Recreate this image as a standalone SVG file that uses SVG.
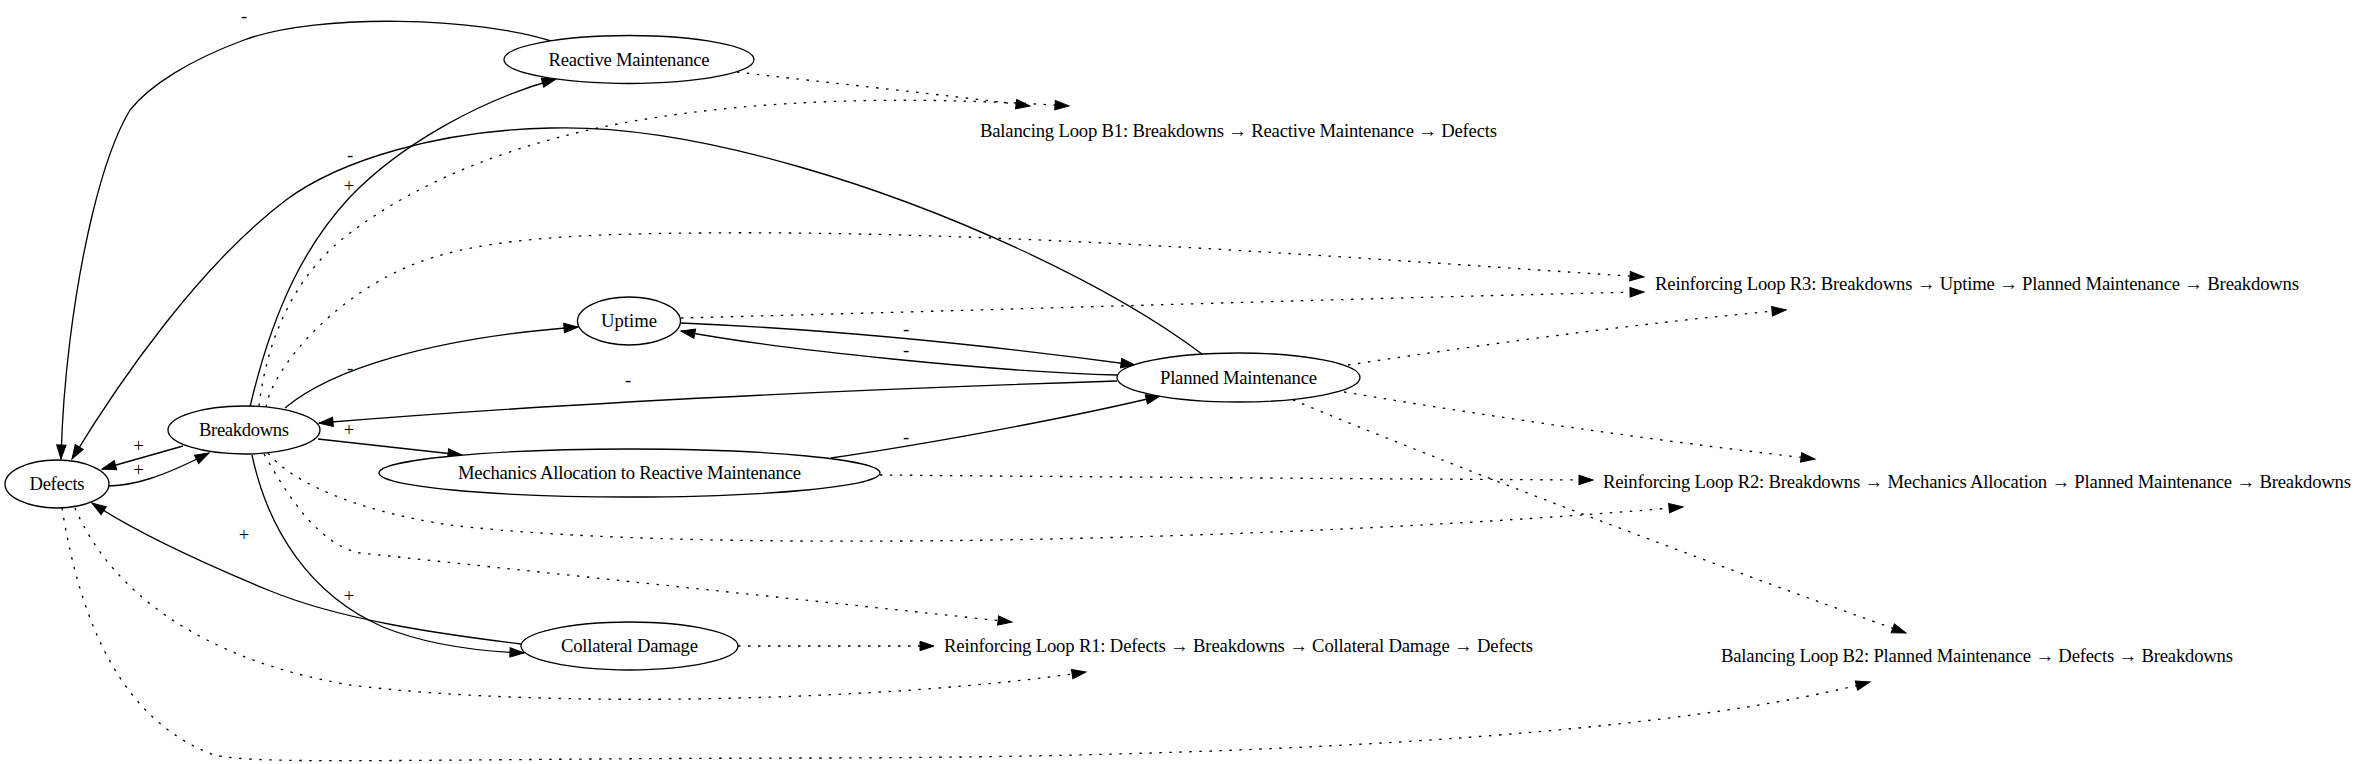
<svg xmlns="http://www.w3.org/2000/svg" width="2368" height="764" viewBox="0 0 2368 764">
<defs>
<marker id="ah" viewBox="0 0 14 10" markerWidth="14" markerHeight="10" refX="14" refY="5" orient="auto" markerUnits="userSpaceOnUse" overflow="visible">
<path d="M0,0.3 L14,5 L0,9.7 z" fill="#000" stroke="#000" stroke-width="1"/>
</marker>
<style>
.n ellipse{fill:#fff;stroke:#000;stroke-width:1.33}
text{font-family:"Liberation Serif","Times New Roman",serif;font-size:18.67px;fill:#000;text-anchor:middle}
.e path{fill:none;stroke:#000;stroke-width:1.33;marker-end:url(#ah)}
.e path.d{stroke-dasharray:2.5,7.5}
</style>
</defs>
<rect width="2368" height="764" fill="#fff"/>
<g id="connectors" class="e">
<path d="M551,41 C480,18 320,12 244,40 C190,60 150,85 130,110 C100,160 80,260 70,340 C65,380 62,420 61,459"/>
<path d="M250,407 C275,300 310,240 350,197 C400,145 480,100 556,79"/>
<path d="M1202,354 C1110,285 950,210 800,167 C700,138 620,126 551,128 C440,130 340,160 286,200 C200,265 120,380 72,459"/>
<path d="M285,408 C330,370 430,338 578,327"/>
<path d="M681,323 C800,328 950,340 1135,365"/>
<path d="M1117,375 C1000,372 780,350 681,331"/>
<path d="M1117,381 C900,388 600,400 319,423"/>
<path d="M318,439 L462,455"/>
<path d="M831,458 C920,445 1060,420 1160,396"/>
<path d="M183,446 L102,469"/>
<path d="M109,486 C135,485 160,478 209,453"/>
<path d="M252,455 C268,530 310,595 383,627 C420,642 470,651 524,653"/>
<path d="M521,644 C440,634 340,620 268,590 C210,566 140,535 92,503"/>
<path class="d" d="M737,72 C820,82 940,94 1030,106"/>
<path class="d" d="M259,406 C268,330 300,270 350,233 C420,180 520,140 640,120 C760,100 900,95 1069,106"/>
<path class="d" d="M266,407 C272,370 330,300 407,267 C470,240 560,234 700,233 C1000,230 1350,258 1644,277"/>
<path class="d" d="M681,318 C1000,310 1400,297 1644,292"/>
<path class="d" d="M1348,365 C1500,342 1650,322 1786,310"/>
<path class="d" d="M880,475 C1100,477 1400,479 1593,480"/>
<path class="d" d="M1344,392 C1500,418 1650,440 1815,459"/>
<path class="d" d="M268,453 C290,480 350,510 450,525 C700,555 1300,540 1683,507"/>
<path class="d" d="M264,454 C290,500 320,545 360,553 L1012,622"/>
<path class="d" d="M738,646 L934,646"/>
<path class="d" d="M75,508 C110,590 200,660 350,685 C550,710 900,700 1086,672"/>
<path class="d" d="M1293,400 C1450,465 1700,560 1906,633"/>
<path class="d" d="M62,508 C80,620 120,720 214,755 C260,765 400,759 800,758 C1200,758 1650,740 1870,682"/>
</g>
<g id="edge-labels">
<text x="244" y="21.5">-</text>
<text x="350" y="161">-</text>
<text x="349" y="191.5">+</text>
<text x="350" y="373.5">-</text>
<text x="628" y="385.5">-</text>
<text x="906" y="334.5">-</text>
<text x="906" y="356">-</text>
<text x="906" y="442.5">-</text>
<text x="349" y="435.5">+</text>
<text x="138.5" y="451.5">+</text>
<text x="138.5" y="475.5">+</text>
<text x="244" y="540.5">+</text>
<text x="349" y="601.5">+</text>
</g>
<g id="node-defects" class="n"><ellipse cx="57" cy="484" rx="52" ry="24"/><text x="57" y="490" textLength="55">Defects</text></g>
<g id="node-breakdowns" class="n"><ellipse cx="244" cy="430" rx="76" ry="24"/><text x="244" y="436" textLength="90">Breakdowns</text></g>
<g id="node-reactive" class="n"><ellipse cx="629" cy="59.5" rx="125" ry="24"/><text x="629" y="65.5" textLength="161">Reactive Maintenance</text></g>
<g id="node-uptime" class="n"><ellipse cx="629" cy="321" rx="51.5" ry="24"/><text x="629" y="327">Uptime</text></g>
<g id="node-mechanics" class="n"><ellipse cx="629.5" cy="473" rx="250.5" ry="24"/><text x="629.5" y="479" textLength="343">Mechanics Allocation to Reactive Maintenance</text></g>
<g id="node-collateral" class="n"><ellipse cx="629.5" cy="646" rx="108.5" ry="24"/><text x="629.5" y="652" textLength="137">Collateral Damage</text></g>
<g id="node-planned" class="n"><ellipse cx="1238.5" cy="377.5" rx="121.5" ry="24.5"/><text x="1238.5" y="383.5" textLength="157">Planned Maintenance</text></g>
<g id="loop-b1"><text x="1238.5" y="137" textLength="517">Balancing Loop B1: Breakdowns → Reactive Maintenance → Defects</text></g>
<g id="loop-r1"><text x="1238.5" y="652" textLength="589">Reinforcing Loop R1: Defects → Breakdowns → Collateral Damage → Defects</text></g>
<g id="loop-r3"><text x="1977" y="290" textLength="644">Reinforcing Loop R3: Breakdowns → Uptime → Planned Maintenance → Breakdowns</text></g>
<g id="loop-r2"><text x="1977" y="488" textLength="748">Reinforcing Loop R2: Breakdowns → Mechanics Allocation → Planned Maintenance → Breakdowns</text></g>
<g id="loop-b2"><text x="1977" y="662" textLength="512">Balancing Loop B2: Planned Maintenance → Defects → Breakdowns</text></g>
</svg>
